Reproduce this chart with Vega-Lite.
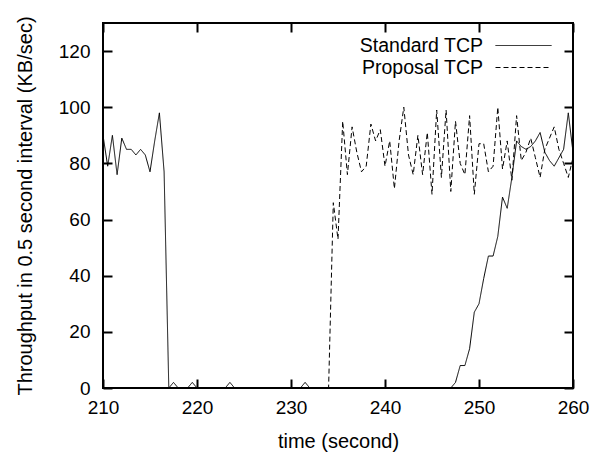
{
  "$schema": "https://vega.github.io/schema/vega-lite/v6.json",
  "width": 470,
  "height": 365,
  "autosize": {"type": "none"},
  "padding": {"left": 103, "top": 23, "right": 29, "bottom": 66},
  "background": "white",
  "config": {
    "view": {"stroke": "black", "strokeWidth": 2},
    "font": "Liberation Sans",
    "axis": {
      "grid": false,
      "labelFont": "Liberation Sans",
      "labelFontSize": 19,
      "labelColor": "black",
      "titleFont": "Liberation Sans",
      "titleFontSize": 20,
      "titleFontWeight": "normal",
      "titleColor": "black"
    }
  },
  "data": {
    "values": [
      {"t": 210, "v": 90, "s": "Standard TCP"}, {"t": 210.5, "v": 79, "s": "Standard TCP"}, {"t": 211, "v": 90, "s": "Standard TCP"}, {"t": 211.5, "v": 76, "s": "Standard TCP"},
      {"t": 212, "v": 89, "s": "Standard TCP"}, {"t": 212.5, "v": 85, "s": "Standard TCP"}, {"t": 213, "v": 85, "s": "Standard TCP"}, {"t": 213.5, "v": 83, "s": "Standard TCP"},
      {"t": 214, "v": 85, "s": "Standard TCP"}, {"t": 214.5, "v": 83, "s": "Standard TCP"}, {"t": 215, "v": 77, "s": "Standard TCP"}, {"t": 215.5, "v": 88, "s": "Standard TCP"},
      {"t": 216, "v": 98, "s": "Standard TCP"}, {"t": 216.5, "v": 77, "s": "Standard TCP"}, {"t": 217, "v": 0, "s": "Standard TCP"}, {"t": 217.5, "v": 2, "s": "Standard TCP"},
      {"t": 218, "v": 0, "s": "Standard TCP"}, {"t": 218.5, "v": 0, "s": "Standard TCP"}, {"t": 219, "v": 0, "s": "Standard TCP"}, {"t": 219.5, "v": 2, "s": "Standard TCP"},
      {"t": 220, "v": 0, "s": "Standard TCP"}, {"t": 220.5, "v": 0, "s": "Standard TCP"}, {"t": 221, "v": 0, "s": "Standard TCP"}, {"t": 221.5, "v": 0, "s": "Standard TCP"},
      {"t": 222, "v": 0, "s": "Standard TCP"}, {"t": 222.5, "v": 0, "s": "Standard TCP"}, {"t": 223, "v": 0, "s": "Standard TCP"}, {"t": 223.5, "v": 2, "s": "Standard TCP"},
      {"t": 224, "v": 0, "s": "Standard TCP"}, {"t": 224.5, "v": 0, "s": "Standard TCP"}, {"t": 225, "v": 0, "s": "Standard TCP"}, {"t": 225.5, "v": 0, "s": "Standard TCP"},
      {"t": 226, "v": 0, "s": "Standard TCP"}, {"t": 226.5, "v": 0, "s": "Standard TCP"}, {"t": 227, "v": 0, "s": "Standard TCP"}, {"t": 227.5, "v": 0, "s": "Standard TCP"},
      {"t": 228, "v": 0, "s": "Standard TCP"}, {"t": 228.5, "v": 0, "s": "Standard TCP"}, {"t": 229, "v": 0, "s": "Standard TCP"}, {"t": 229.5, "v": 0, "s": "Standard TCP"},
      {"t": 230, "v": 0, "s": "Standard TCP"}, {"t": 230.5, "v": 0, "s": "Standard TCP"}, {"t": 231, "v": 0, "s": "Standard TCP"}, {"t": 231.5, "v": 2, "s": "Standard TCP"},
      {"t": 232, "v": 0, "s": "Standard TCP"}, {"t": 232.5, "v": 0, "s": "Standard TCP"}, {"t": 233, "v": 0, "s": "Standard TCP"}, {"t": 233.5, "v": 0, "s": "Standard TCP"},
      {"t": 234, "v": 0, "s": "Standard TCP"}, {"t": 234.5, "v": 0, "s": "Standard TCP"}, {"t": 235, "v": 0, "s": "Standard TCP"}, {"t": 235.5, "v": 0, "s": "Standard TCP"},
      {"t": 236, "v": 0, "s": "Standard TCP"}, {"t": 236.5, "v": 0, "s": "Standard TCP"}, {"t": 237, "v": 0, "s": "Standard TCP"}, {"t": 237.5, "v": 0, "s": "Standard TCP"},
      {"t": 238, "v": 0, "s": "Standard TCP"}, {"t": 238.5, "v": 0, "s": "Standard TCP"}, {"t": 239, "v": 0, "s": "Standard TCP"}, {"t": 239.5, "v": 0, "s": "Standard TCP"},
      {"t": 240, "v": 0, "s": "Standard TCP"}, {"t": 240.5, "v": 0, "s": "Standard TCP"}, {"t": 241, "v": 0, "s": "Standard TCP"}, {"t": 241.5, "v": 0, "s": "Standard TCP"},
      {"t": 242, "v": 0, "s": "Standard TCP"}, {"t": 242.5, "v": 0, "s": "Standard TCP"}, {"t": 243, "v": 0, "s": "Standard TCP"}, {"t": 243.5, "v": 0, "s": "Standard TCP"},
      {"t": 244, "v": 0, "s": "Standard TCP"}, {"t": 244.5, "v": 0, "s": "Standard TCP"}, {"t": 245, "v": 0, "s": "Standard TCP"}, {"t": 245.5, "v": 0, "s": "Standard TCP"},
      {"t": 246, "v": 0, "s": "Standard TCP"}, {"t": 246.5, "v": 0, "s": "Standard TCP"}, {"t": 247, "v": 0, "s": "Standard TCP"}, {"t": 247.5, "v": 2, "s": "Standard TCP"},
      {"t": 248, "v": 8, "s": "Standard TCP"}, {"t": 248.5, "v": 8, "s": "Standard TCP"}, {"t": 249, "v": 14, "s": "Standard TCP"}, {"t": 249.5, "v": 27, "s": "Standard TCP"},
      {"t": 250, "v": 30, "s": "Standard TCP"}, {"t": 250.5, "v": 39, "s": "Standard TCP"}, {"t": 251, "v": 47, "s": "Standard TCP"}, {"t": 251.5, "v": 47, "s": "Standard TCP"},
      {"t": 252, "v": 54, "s": "Standard TCP"}, {"t": 252.5, "v": 68, "s": "Standard TCP"}, {"t": 253, "v": 64, "s": "Standard TCP"}, {"t": 253.5, "v": 75, "s": "Standard TCP"},
      {"t": 254, "v": 88, "s": "Standard TCP"}, {"t": 254.5, "v": 86, "s": "Standard TCP"}, {"t": 255, "v": 85, "s": "Standard TCP"}, {"t": 255.5, "v": 86, "s": "Standard TCP"},
      {"t": 256, "v": 88, "s": "Standard TCP"}, {"t": 256.5, "v": 91, "s": "Standard TCP"}, {"t": 257, "v": 84, "s": "Standard TCP"}, {"t": 257.5, "v": 81, "s": "Standard TCP"},
      {"t": 258, "v": 79, "s": "Standard TCP"}, {"t": 258.5, "v": 82, "s": "Standard TCP"}, {"t": 259, "v": 85, "s": "Standard TCP"}, {"t": 259.5, "v": 98, "s": "Standard TCP"},
      {"t": 260, "v": 84, "s": "Standard TCP"},

      {"t": 210, "v": 0, "s": "Proposal TCP"}, {"t": 210.5, "v": 0, "s": "Proposal TCP"}, {"t": 211, "v": 0, "s": "Proposal TCP"}, {"t": 211.5, "v": 0, "s": "Proposal TCP"},
      {"t": 212, "v": 0, "s": "Proposal TCP"}, {"t": 212.5, "v": 0, "s": "Proposal TCP"}, {"t": 213, "v": 0, "s": "Proposal TCP"}, {"t": 213.5, "v": 0, "s": "Proposal TCP"},
      {"t": 214, "v": 0, "s": "Proposal TCP"}, {"t": 214.5, "v": 0, "s": "Proposal TCP"}, {"t": 215, "v": 0, "s": "Proposal TCP"}, {"t": 215.5, "v": 0, "s": "Proposal TCP"},
      {"t": 216, "v": 0, "s": "Proposal TCP"}, {"t": 216.5, "v": 0, "s": "Proposal TCP"}, {"t": 217, "v": 0, "s": "Proposal TCP"}, {"t": 217.5, "v": 0, "s": "Proposal TCP"},
      {"t": 218, "v": 0, "s": "Proposal TCP"}, {"t": 218.5, "v": 0, "s": "Proposal TCP"}, {"t": 219, "v": 0, "s": "Proposal TCP"}, {"t": 219.5, "v": 0, "s": "Proposal TCP"},
      {"t": 220, "v": 0, "s": "Proposal TCP"}, {"t": 220.5, "v": 0, "s": "Proposal TCP"}, {"t": 221, "v": 0, "s": "Proposal TCP"}, {"t": 221.5, "v": 0, "s": "Proposal TCP"},
      {"t": 222, "v": 0, "s": "Proposal TCP"}, {"t": 222.5, "v": 0, "s": "Proposal TCP"}, {"t": 223, "v": 0, "s": "Proposal TCP"}, {"t": 223.5, "v": 0, "s": "Proposal TCP"},
      {"t": 224, "v": 0, "s": "Proposal TCP"}, {"t": 224.5, "v": 0, "s": "Proposal TCP"}, {"t": 225, "v": 0, "s": "Proposal TCP"}, {"t": 225.5, "v": 0, "s": "Proposal TCP"},
      {"t": 226, "v": 0, "s": "Proposal TCP"}, {"t": 226.5, "v": 0, "s": "Proposal TCP"}, {"t": 227, "v": 0, "s": "Proposal TCP"}, {"t": 227.5, "v": 0, "s": "Proposal TCP"},
      {"t": 228, "v": 0, "s": "Proposal TCP"}, {"t": 228.5, "v": 0, "s": "Proposal TCP"}, {"t": 229, "v": 0, "s": "Proposal TCP"}, {"t": 229.5, "v": 0, "s": "Proposal TCP"},
      {"t": 230, "v": 0, "s": "Proposal TCP"}, {"t": 230.5, "v": 0, "s": "Proposal TCP"}, {"t": 231, "v": 0, "s": "Proposal TCP"}, {"t": 231.5, "v": 0, "s": "Proposal TCP"},
      {"t": 232, "v": 0, "s": "Proposal TCP"}, {"t": 232.5, "v": 0, "s": "Proposal TCP"}, {"t": 233, "v": 0, "s": "Proposal TCP"}, {"t": 233.5, "v": 0, "s": "Proposal TCP"},
      {"t": 234, "v": 0, "s": "Proposal TCP"}, {"t": 234.5, "v": 66, "s": "Proposal TCP"}, {"t": 235, "v": 53, "s": "Proposal TCP"}, {"t": 235.5, "v": 95, "s": "Proposal TCP"},
      {"t": 236, "v": 76, "s": "Proposal TCP"}, {"t": 236.5, "v": 93, "s": "Proposal TCP"}, {"t": 237, "v": 84, "s": "Proposal TCP"}, {"t": 237.5, "v": 77, "s": "Proposal TCP"},
      {"t": 238, "v": 79, "s": "Proposal TCP"}, {"t": 238.5, "v": 94, "s": "Proposal TCP"}, {"t": 239, "v": 88, "s": "Proposal TCP"}, {"t": 239.5, "v": 92, "s": "Proposal TCP"},
      {"t": 240, "v": 79, "s": "Proposal TCP"}, {"t": 240.5, "v": 88, "s": "Proposal TCP"}, {"t": 241, "v": 71, "s": "Proposal TCP"}, {"t": 241.5, "v": 88, "s": "Proposal TCP"},
      {"t": 242, "v": 100, "s": "Proposal TCP"}, {"t": 242.5, "v": 83, "s": "Proposal TCP"}, {"t": 243, "v": 76, "s": "Proposal TCP"}, {"t": 243.5, "v": 90, "s": "Proposal TCP"},
      {"t": 244, "v": 76, "s": "Proposal TCP"}, {"t": 244.5, "v": 91, "s": "Proposal TCP"}, {"t": 245, "v": 69, "s": "Proposal TCP"}, {"t": 245.5, "v": 99, "s": "Proposal TCP"},
      {"t": 246, "v": 75, "s": "Proposal TCP"}, {"t": 246.5, "v": 99, "s": "Proposal TCP"}, {"t": 247, "v": 70, "s": "Proposal TCP"}, {"t": 247.5, "v": 95, "s": "Proposal TCP"},
      {"t": 248, "v": 80, "s": "Proposal TCP"}, {"t": 248.5, "v": 76, "s": "Proposal TCP"}, {"t": 249, "v": 97, "s": "Proposal TCP"}, {"t": 249.5, "v": 69, "s": "Proposal TCP"},
      {"t": 250, "v": 87, "s": "Proposal TCP"}, {"t": 250.5, "v": 87, "s": "Proposal TCP"}, {"t": 251, "v": 77, "s": "Proposal TCP"}, {"t": 251.5, "v": 79, "s": "Proposal TCP"},
      {"t": 252, "v": 100, "s": "Proposal TCP"}, {"t": 252.5, "v": 78, "s": "Proposal TCP"}, {"t": 253, "v": 88, "s": "Proposal TCP"}, {"t": 253.5, "v": 74, "s": "Proposal TCP"},
      {"t": 254, "v": 97, "s": "Proposal TCP"}, {"t": 254.5, "v": 81, "s": "Proposal TCP"}, {"t": 255, "v": 84, "s": "Proposal TCP"}, {"t": 255.5, "v": 89, "s": "Proposal TCP"},
      {"t": 256, "v": 82, "s": "Proposal TCP"}, {"t": 256.5, "v": 75, "s": "Proposal TCP"}, {"t": 257, "v": 85, "s": "Proposal TCP"}, {"t": 257.5, "v": 89, "s": "Proposal TCP"},
      {"t": 258, "v": 93, "s": "Proposal TCP"}, {"t": 258.5, "v": 85, "s": "Proposal TCP"}, {"t": 259, "v": 80, "s": "Proposal TCP"}, {"t": 259.5, "v": 75, "s": "Proposal TCP"},
      {"t": 260, "v": 82, "s": "Proposal TCP"}
    ]
  },
  "layer": [
    {
      "transform": [{"filter": "datum.s == 'Standard TCP'"}],
      "mark": {"type": "line", "color": "black", "strokeWidth": 1, "clip": true},
      "encoding": {
        "x": {
          "field": "t", "type": "quantitative",
          "scale": {"domain": [210, 260], "nice": false, "zero": false},
          "axis": {"orient": "top", "values": [210, 220, 230, 240, 250, 260], "labels": false, "title": null, "zindex": 1,
                   "domain": false, "ticks": true, "tickSize": -9, "tickColor": "black", "tickOpacity": 1, "tickWidth": 2}
        },
        "y": {
          "field": "v", "type": "quantitative",
          "scale": {"domain": [0, 130], "nice": false},
          "axis": {"orient": "left", "values": [0, 20, 40, 60, 80, 100, 120], "title": "Throughput in 0.5 second interval (KB/sec)", "zindex": 1,
                   "domain": false, "ticks": true, "tickSize": -9, "tickColor": "black", "tickOpacity": 1, "tickWidth": 2,
                   "labelPadding": 22, "titlePadding": 23, "labelFlush": false}
        },
        "strokeDash": {
          "field": "s", "type": "nominal",
          "scale": {"domain": ["Standard TCP"], "range": [[1, 0]]},
          "legend": {
            "orient": "none", "legendX": 392, "legendY": -6, "title": null,
            "symbolType": "stroke", "symbolSize": 3136, "symbolStrokeWidth": 1, "symbolStrokeColor": "black",
            "labelAlign": "right", "labelOffset": -69, "labelFontSize": 19.5, "labelFont": "Liberation Sans", "labelColor": "black",
            "labelLimit": 400, "padding": 0
          }
        }
      }
    },
    {
      "transform": [{"filter": "datum.s == 'Proposal TCP'"}],
      "mark": {"type": "line", "color": "black", "strokeWidth": 1, "clip": true},
      "encoding": {
        "x": {
          "field": "t", "type": "quantitative",
          "scale": {"domain": [210, 260], "nice": false, "zero": false},
          "axis": {"orient": "bottom", "values": [210, 220, 230, 240, 250, 260], "title": "time (second)", "zindex": 1,
                   "domain": false, "ticks": true, "tickSize": -9, "tickColor": "black", "tickOpacity": 1, "tickWidth": 2,
                   "labelPadding": 19, "titlePadding": 14, "labelFlush": false}
        },
        "y": {
          "field": "v", "type": "quantitative",
          "scale": {"domain": [0, 130], "nice": false},
          "axis": {"orient": "right", "values": [0, 20, 40, 60, 80, 100, 120], "labels": false, "title": null, "zindex": 1,
                   "domain": false, "ticks": true, "tickSize": -9, "tickColor": "black", "tickOpacity": 1, "tickWidth": 2}
        },
        "strokeDash": {
          "field": "s", "type": "nominal",
          "scale": {"domain": ["Proposal TCP"], "range": [[5, 3]]},
          "legend": {
            "orient": "none", "legendX": 392, "legendY": 16, "title": null,
            "symbolType": "stroke", "symbolSize": 3136, "symbolStrokeWidth": 1, "symbolStrokeColor": "black",
            "labelAlign": "right", "labelOffset": -69, "labelFontSize": 19.5, "labelFont": "Liberation Sans", "labelColor": "black",
            "labelLimit": 400, "padding": 0
          }
        }
      }
    }
  ],
  "resolve": {"axis": {"x": "independent", "y": "independent"}, "scale": {"strokeDash": "independent"}, "legend": {"strokeDash": "independent"}}
}
